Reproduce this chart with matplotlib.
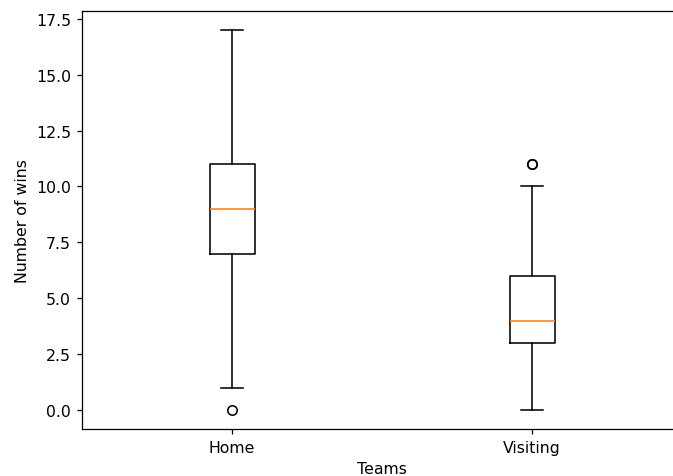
import matplotlib
matplotlib.use("Agg")
import matplotlib.pyplot as plt

# Summary statistics of wins per team group
teams = ["Home", "Visiting"]
whisker_low = [1, 0]
q1 = [7, 3]
medians = [9, 4]
q3 = [11, 6]
whisker_high = [17, 10]
outliers = [[0], [11, 11]]

stats = []
for i, name in enumerate(teams):
    stats.append({
        "label": name,
        "whislo": whisker_low[i],
        "q1": q1[i],
        "med": medians[i],
        "q3": q3[i],
        "whishi": whisker_high[i],
        "fliers": outliers[i],
    })

DPI = 113
W, H = 673, 477
fig, ax = plt.subplots(figsize=(W / DPI, H / DPI), dpi=DPI)
fig.subplots_adjust(left=82 / W, right=682 / W, top=1 - 12 / H, bottom=1 - 430 / H)
ax.bxp(stats, showfliers=True)
ax.set_xlabel("Teams")
ax.set_ylabel("Number of wins")
fig.savefig("out.png", dpi=DPI)
